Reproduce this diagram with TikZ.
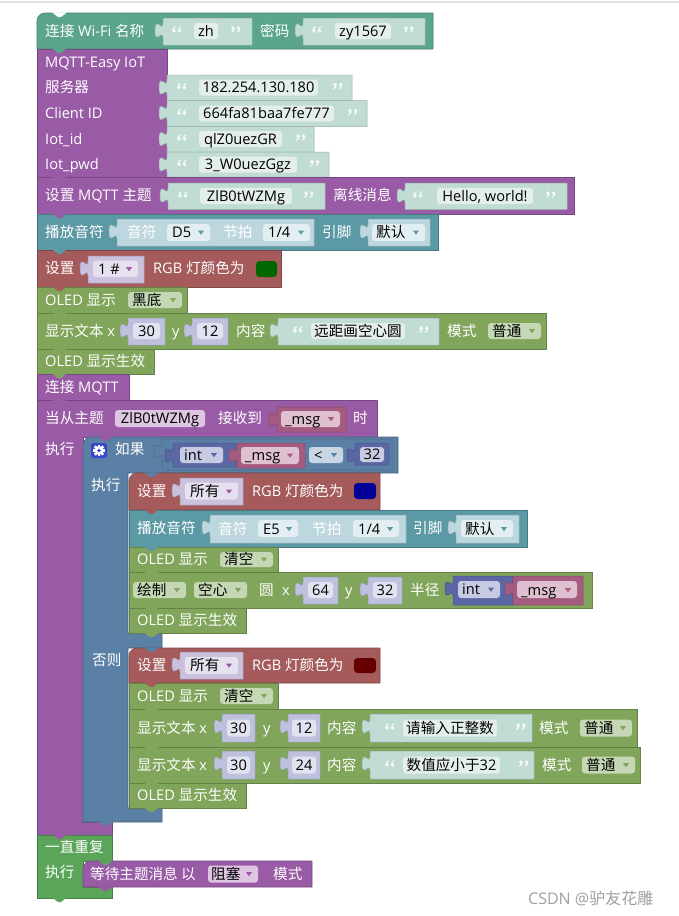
\documentclass[tikz,border=0pt]{standalone}
\usepackage{fontspec}
\setmainfont{Open Sans}
\newfontfamily\zhf{Noto Sans CJK SC}
\newcommand\zh[1]{{\zhf #1}}
\newcommand\fs{\fontsize{14.6}{17}\selectfont}
\definecolor{wifi}{HTML}{5BA58C}
\definecolor{mqtt}{HTML}{995BA5}
\definecolor{note}{HTML}{5B99A5}
\definecolor{rgb}{HTML}{A55B5B}
\definecolor{oled}{HTML}{80A55B}
\definecolor{ifc}{HTML}{5B80A5}
\definecolor{loopc}{HTML}{5BA55B}
\definecolor{intc}{HTML}{5B67A5}
\definecolor{varc}{HTML}{A55B80}
\definecolor{strsh}{HTML}{C0DCD4}
\definecolor{strfld}{HTML}{E4EFEB}
\definecolor{notesh}{HTML}{BDD7DE}
\definecolor{notefld}{HTML}{E2EEF1}
\definecolor{rgbsh}{HTML}{CBC0DE}
\definecolor{rgbfld}{HTML}{E6E1EF}
\definecolor{numsh}{HTML}{BDC1DD}
\definecolor{numfld}{HTML}{E1E3F0}
\definecolor{oledfld}{HTML}{C5D7B4}
\definecolor{mqttfld}{HTML}{DEC6E3}
\definecolor{varfld}{HTML}{DEC0D0}
\definecolor{intfld}{HTML}{C6CAE3}
\definecolor{cmpfld}{HTML}{C8D5E3}
\definecolor{gearc}{HTML}{3848C8}
\definecolor{wm}{HTML}{A0A0A0}
\definecolor{qtc}{HTML}{F4F8F6}
\tikzset{
 lbl/.style={anchor=base west, inner sep=0pt, text=white, font=\fs, yshift=-5.3pt},
 ftx/.style={anchor=base west, inner sep=0pt, text=black, font=\fs, yshift=-5.3pt},
 ctx/.style={anchor=base, inner sep=0pt, text=black, font=\fs, yshift=-5.3pt},
}
\newcommand\blk[5]{\filldraw[fill=#1,draw=#1!78!black,line width=0.6pt] (#2,#3) rectangle (#4,#5);}
\newcommand\blkr[5]{\filldraw[fill=#1,draw=#1!78!black,line width=0.6pt] (#2,#5) -- (#2,{#3+8}) .. controls (#2,{#3+3.6}) and ({#2+3.6},#3) .. ({#2+8},#3) -- (#4,#3) -- (#4,#5) -- cycle;}
\newcommand\vinp[5]{\filldraw[fill=#1,draw=#1!80!black,line width=0.5pt] (#2,#3) -- (#4,#3) -- (#4,#5) -- (#2,#5) -- (#2,{#3+20}) .. controls (#2,{#3+10}) and ({#2-8},{#3+28}) .. ({#2-8},{#3+12.5}) .. controls ({#2-8},{#3-3}) and (#2,{#3+15}) .. (#2,{#3+5}) -- cycle;}
\newcommand\fld[5]{\fill[#1,rounded corners=3pt] (#2,#3) rectangle (#4,#5);}
\newcommand\dda[3]{\fill[#1] ({#2-3},{#3-1.8}) -- ({#2+3},{#3-1.8}) -- (#2,{#3+2.2}) -- cycle;}
\newcommand\ntab[3]{\fill[#1] ({#2+15},{#3-0.6}) -- ({#2+21},{#3+4}) -- ({#2+24},{#3+4}) -- ({#2+30},{#3-0.6}) -- cycle;}
\newcommand\swt[5]{\fill[#1,rounded corners=3.5pt] (#2,#3) rectangle (#4,#5);}
\newcommand\qmark[3]{\begin{scope}[shift={(#1,#2)},rotate=#3]
 \fill[qtc] (0,1.4) circle (1.95);
 \fill[qtc] (-1.85,1.2) .. controls (-1.8,-1.4) and (-0.3,-2.9) .. (1.8,-3.3) -- (2.0,-2.4) .. controls (0.8,-1.9) and (0.2,-0.9) .. (0.3,-0.3) -- cycle;
\end{scope}}
\newcommand\oq[2]{\qmark{{#1+2}}{{#2-1.5}}{0}\qmark{{#1+7.6}}{{#2-1.5}}{0}}
\newcommand\cq[2]{\qmark{{#1+2}}{{#2-1.5}}{180}\qmark{{#1+7.6}}{{#2-1.5}}{180}}
\begin{document}
\begin{tikzpicture}[x=1pt,y=-1pt]
\useasboundingbox (0,0) rectangle (679,916);
\fill[white] (0,0) rectangle (679,916);
\fill[black!12] (0,0.5) rectangle (679,2.5);

% ---- WiFi
\blkr{wifi}{37}{13}{433}{49}
\node[lbl] (w1) at (45,31) {\zh{连接} Wi-Fi \zh{名称}};
\vinp{strsh}{163}{18}{252}{45}
\oq{172}{31}
\fld{strfld}{194}{23}{218}{39}
\node[ctx] (w3) at (206,31) {zh};
\cq{231}{31}
\node[lbl] (w5) at (260,31) {\zh{密码}};
\vinp{strsh}{303}{18}{425}{45}
\oq{312}{31}
\fld{strfld}{335}{23}{391}{39}
\node[ctx] (w7) at (363,31) {zy1567};
\cq{404}{31}

% ---- MQTT-Easy IoT
\blk{mqtt}{37}{49}{167}{177}
\node[lbl] (m1) at (45,62) {MQTT-Easy IoT};
\node[lbl] (m2) at (45,87.5) {\zh{服务器}};
\vinp{strsh}{167}{75}{352}{100.5}
\oq{177}{87.5}
\fld{strfld}{199}{79.5}{318}{95.5}
\node[ctx] (m4) at (258.5,87.5) {182.254.130.180};
\cq{333}{87.5}
\node[lbl] (m6) at (45,113.5) {Client ID};
\vinp{strsh}{167}{100.5}{367}{126.5}
\oq{177}{113.5}
\fld{strfld}{199}{105.5}{334}{121.5}
\node[ctx] (m8) at (266.5,113.5) {664fa81baa7fe777};
\cq{348}{113.5}
\node[lbl] (m10) at (45,139) {Iot\_id};
\vinp{strsh}{167}{126.5}{314}{152}
\oq{177}{139}
\fld{strfld}{199}{131}{282}{147}
\node[ctx] (m12) at (240.5,139) {qlZ0uezGR};
\cq{296}{139}
\node[lbl] (m14) at (45,164.5) {Iot\_pwd};
\vinp{strsh}{167}{152}{329}{177}
\oq{177}{164.5}
\fld{strfld}{199}{156.5}{297}{172.5}
\node[ctx] (m16) at (248,164.5) {3\_W0uezGgz};
\cq{310}{164.5}

% ---- set MQTT topic
\blk{mqtt}{37}{177}{574}{214}
\node[lbl] (s1) at (45,195.5) {\zh{设置} MQTT \zh{主题}};
\vinp{strsh}{168}{183}{325}{209.5}
\oq{178}{196}
\fld{strfld}{200}{188}{292}{204}
\node[ctx] (s3) at (246,196) {ZlB0tWZMg};
\cq{304}{196}
\node[lbl] (s5) at (333,195.5) {\zh{离线消息}};
\vinp{strsh}{405}{183}{567}{209.5}
\oq{413}{196}
\fld{strfld}{437}{188}{533}{204}
\node[ctx] (s7) at (485,196) {Hello, world!};
\cq{546}{196}

% ---- play note
\blk{note}{37}{214}{438}{250}
\node[lbl] (p1) at (45,232) {\zh{播放音符}};
\vinp{notesh}{117}{219}{314}{246}
\node[lbl] (p2) at (127,232.5) {\zh{音符}};
\fld{notefld}{167}{224}{210}{241}
\node[ftx] (p3) at (172,232.5) {D5};
\dda{note}{201}{232.5}
\node[lbl] (p4) at (223,232.5) {\zh{节拍}};
\fld{notefld}{263}{224}{310}{241}
\node[ftx] (p5) at (268,232.5) {1/4};
\dda{note}{301}{232.5}
\node[lbl] (p6) at (322,232) {\zh{引脚}};
\vinp{notesh}{368}{219}{430}{246}
\fld{notefld}{372}{224}{425}{241}
\node[ftx] (p7) at (376,232.5) {\zh{默认}};
\dda{note}{416}{232.5}

% ---- RGB top
\blk{rgb}{37}{250}{281}{287}
\node[lbl] (r1) at (45,268.5) {\zh{设置}};
\vinp{rgbsh}{88}{256}{144}{283}
\fld{rgbfld}{93}{260.5}{138}{277}
\node[ftx] (r2) at (98,269) {1 \#};
\dda{mqtt}{129}{269}
\node[lbl] (r3) at (153,268.5) {RGB \zh{灯颜色为}};
\swt{green!40!black}{256}{261}{277}{277}

% ---- OLED 黑底
\blk{oled}{37}{287}{187}{313}
\node[lbl] (o1) at (45,300) {OLED \zh{显示}};
\fld{oledfld}{128}{292}{182}{308}
\node[ftx] (o2) at (132,300) {\zh{黑底}};
\dda{oled}{173}{300}

% ---- show text
\blk{oled}{37}{313}{546}{349}
\node[lbl] (t1) at (45,331) {\zh{显示文本} x};
\vinp{numsh}{128}{318}{165}{345}
\fld{numfld}{133}{323}{160}{339}
\node[ctx] (t2) at (146.5,331) {30};
\node[lbl] (t3) at (172,331) {y};
\vinp{numsh}{192}{318}{228}{345}
\fld{numfld}{197}{323}{223}{339}
\node[ctx] (t4) at (210,331) {12};
\node[lbl] (t5) at (236,331) {\zh{内容}};
\vinp{strsh}{278}{318}{439}{345}
\oq{293}{331}
\fld{strfld}{311}{323}{405}{339}
\node[ctx] (t7) at (358,331) {\zh{远距画空心圆}};
\cq{419}{331}
\node[lbl] (t9) at (447,331) {\zh{模式}};
\fld{oledfld}{488}{323}{541}{339}
\node[ftx] (t10) at (492,331) {\zh{普通}};
\dda{oled}{532}{331}

% ---- OLED apply
\blk{oled}{37}{349}{154}{374}
\node[lbl] (e1) at (45,361.5) {OLED \zh{显示生效}};

% ---- connect MQTT
\blk{mqtt}{37}{374}{129}{400}
\node[lbl] (c1) at (45,387) {\zh{连接} MQTT};

% ---- event block
\filldraw[fill=mqtt,draw=mqtt!78!black,line width=0.6pt] (37,400) -- (377,400) -- (377,437) -- (83,437) -- (83,822) -- (112,822) -- (112,835) -- (37,835) -- cycle;
\node[lbl] (v1) at (45,418.5) {\zh{当从主题}};
\fld{mqttfld}{115}{410}{205}{427}
\node[ctx] (v2) at (160,418.5) {ZlB0tWZMg};
\node[lbl] (v3) at (218,418.5) {\zh{接收到}};
\vinp{varc}{277}{407}{346}{432}
\fld{varfld}{281}{411}{340}{427}
\node[ftx] (v4) at (285,419) {\_msg};
\dda{varc}{331}{419}
\node[lbl] (v5) at (353,418.5) {\zh{时}};
\node[lbl] (v6) at (45,449) {\zh{执行}};

% ---- if block
\filldraw[fill=ifc,draw=ifc!78!black,line width=0.6pt] (83,822) -- (83,445) .. controls (83,440.6) and (86.6,437) .. (91,437) -- (398,437) -- (398,473) -- (128,473) -- (128,633) -- (162,633) -- (162,648) -- (128,648) -- (128,808) -- (162,808) -- (162,822) -- cycle;
\fill[gearc,rounded corners=2.5pt] (91,443) rectangle (107,458);
\fill[white] (99,450.5) circle (4.3);
\foreach \a in {0,45,...,315} { \fill[white,rotate around={\a:(99,450.5)}] (97.7,444.6) rectangle (100.3,447); }
\fill[gearc] (99,450.5) circle (1.8);
\node[lbl] (f1) at (115,449) {\zh{如果}};
\vinp{ifc}{162}{439}{392}{470}
\vinp{intc}{173}{443}{236}{467}
\fld{intfld}{180}{447}{223}{463}
\node[ftx] (f2) at (184,455) {int};
\dda{intc}{214}{455}
\vinp{varc}{237}{443}{305}{468}
\fld{varfld}{241}{447}{299}{464}
\node[ftx] (f3) at (245,455.5) {\_msg};
\dda{varc}{290}{455.5}
\fld{cmpfld}{309}{447}{343}{463}
\node[ftx] (f4) at (314,455) {<};
\dda{ifc}{334}{455}
\vinp{intc}{355}{443}{389}{465}
\fld{intfld}{360}{447}{384}{462}
\node[ctx] (f5) at (372,454.5) {32};
\node[lbl] (f6) at (91,485) {\zh{执行}};
\node[lbl] (f7) at (92,660) {\zh{否则}};

% ---- then: RGB
\blkr{rgb}{129}{473}{380}{510}
\node[lbl] (a1) at (137,491.5) {\zh{设置}};
\vinp{rgbsh}{180}{478}{243}{505}
\fld{rgbfld}{185}{482.5}{238}{499.5}
\node[ftx] (a2) at (190,491.5) {\zh{所有}};
\dda{mqtt}{229}{491.5}
\node[lbl] (a3) at (252,491.5) {RGB \zh{灯颜色为}};
\swt{blue!60!black}{354}{483}{376}{499}

% ---- then: play note
\blk{note}{129}{510}{527}{547}
\node[lbl] (b1) at (137,528.5) {\zh{播放音符}};
\vinp{notesh}{210}{515}{406}{543}
\node[lbl] (b2) at (218,529) {\zh{音符}};
\fld{notefld}{258}{520}{298}{537}
\node[ftx] (b3) at (263,529) {E5};
\dda{note}{289}{529}
\node[lbl] (b4) at (312,529) {\zh{节拍}};
\fld{notefld}{353}{520}{399}{537}
\node[ftx] (b5) at (358,529) {1/4};
\dda{note}{390}{529}
\node[lbl] (b6) at (413,528.5) {\zh{引脚}};
\vinp{notesh}{456}{515}{519}{543}
\fld{notefld}{461}{520}{513}{537}
\node[ftx] (b7) at (465,529) {\zh{默认}};
\dda{note}{504}{529}

% ---- then: OLED clear
\blk{oled}{129}{547}{278}{572}
\node[lbl] (g1) at (137,559.5) {OLED \zh{显示}};
\fld{oledfld}{220}{552}{273}{567}
\node[ftx] (g2) at (224,559.5) {\zh{清空}};
\dda{oled}{264}{559.5}

% ---- then: draw circle
\blk{oled}{129}{572}{592}{608}
\fld{oledfld}{133}{582}{186}{598}
\node[ftx] (h1) at (137,590) {\zh{绘制}};
\dda{oled}{177}{590}
\fld{oledfld}{194}{582}{247}{598}
\node[ftx] (h2) at (198,590) {\zh{空心}};
\dda{oled}{238}{590}
\node[lbl] (h3) at (259,590) {\zh{圆}};
\node[lbl] (h4) at (282,590) {x};
\vinp{numsh}{303}{577}{338}{604}
\fld{numfld}{308}{582}{333}{598}
\node[ctx] (h5) at (320.5,590) {64};
\node[lbl] (h6) at (345,590) {y};
\vinp{numsh}{368}{577}{402}{604}
\fld{numfld}{373}{582}{397}{598}
\node[ctx] (h7) at (385,590) {32};
\node[lbl] (h8) at (410,590) {\zh{半径}};
\vinp{intc}{453}{576}{513}{605}
\fld{intfld}{458}{581}{500}{598}
\node[ftx] (h9) at (462,589.5) {int};
\dda{intc}{491}{589.5}
\vinp{varc}{513}{576}{583}{605}
\fld{varfld}{517}{581}{577}{598}
\node[ftx] (h10) at (521,590) {\_msg};
\dda{varc}{568}{590}

% ---- then: OLED apply
\blk{oled}{129}{608}{246}{633}
\node[lbl] (i1) at (137,620.5) {OLED \zh{显示生效}};

% ---- else: RGB
\blkr{rgb}{129}{648}{380}{683}
\node[lbl] (j1) at (137,665.5) {\zh{设置}};
\vinp{rgbsh}{180}{652}{243}{679}
\fld{rgbfld}{185}{657}{238}{674}
\node[ftx] (j2) at (190,665.5) {\zh{所有}};
\dda{mqtt}{229}{665.5}
\node[lbl] (j3) at (252,665.5) {RGB \zh{灯颜色为}};
\swt{red!40!black}{354}{658}{376}{673}

% ---- else: OLED clear
\blk{oled}{129}{683}{278}{709}
\node[lbl] (k1) at (137,696) {OLED \zh{显示}};
\fld{oledfld}{220}{688}{273}{704}
\node[ftx] (k2) at (224,696) {\zh{清空}};
\dda{oled}{264}{696}

% ---- else: show text 1
\blk{oled}{129}{709}{637}{747}
\node[lbl] (l1) at (137,728) {\zh{显示文本} x};
\vinp{numsh}{222}{714}{255}{742}
\fld{numfld}{227}{719.5}{250}{736.5}
\node[ctx] (l2) at (238.5,728) {30};
\node[lbl] (l3) at (263,728) {y};
\vinp{numsh}{288}{714}{320}{742}
\fld{numfld}{292}{719.5}{316}{736.5}
\node[ctx] (l4) at (304,728) {12};
\node[lbl] (l5) at (327,728) {\zh{内容}};
\vinp{strsh}{370}{714}{532}{742}
\oq{385}{728}
\fld{strfld}{403}{719.5}{497}{736.5}
\node[ctx] (l7) at (450,728) {\zh{请输入正整数}};
\cq{516}{728}
\node[lbl] (l9) at (539,728) {\zh{模式}};
\fld{oledfld}{580}{719.5}{632}{736.5}
\node[ftx] (l10) at (584,728) {\zh{普通}};
\dda{oled}{623}{728}

% ---- else: show text 2
\blk{oled}{129}{747}{640}{783}
\node[lbl] (q1) at (137,765) {\zh{显示文本} x};
\vinp{numsh}{222}{751}{255}{779}
\fld{numfld}{227}{756.5}{250}{773.5}
\node[ctx] (q2) at (238.5,765) {30};
\node[lbl] (q3) at (263,765) {y};
\vinp{numsh}{288}{751}{320}{779}
\fld{numfld}{292}{756.5}{316}{773.5}
\node[ctx] (q4) at (304,765) {24};
\node[lbl] (q5) at (327,765) {\zh{内容}};
\vinp{strsh}{370}{751}{534}{779}
\oq{385}{765}
\fld{strfld}{403}{756.5}{500}{773.5}
\node[ctx] (q7) at (451.5,765) {\zh{数值应小于}32};
\cq{519}{765}
\node[lbl] (q9) at (542,765) {\zh{模式}};
\fld{oledfld}{582}{756.5}{635}{773.5}
\node[ftx] (q10) at (586,765) {\zh{普通}};
\dda{oled}{626}{765}

% ---- else: OLED apply
\blk{oled}{129}{783}{246}{808}
\node[lbl] (u1) at (137,795.5) {OLED \zh{显示生效}};

% ---- forever
\filldraw[fill=loopc,draw=loopc!78!black,line width=0.6pt] (37,835) -- (112,835) -- (112,861) -- (83,861) -- (83,887) -- (112,887) -- (112,898) -- (37,898) -- cycle;
\node[lbl] (x1) at (45,847) {\zh{一直重复}};
\node[lbl] (x2) at (45,872) {\zh{执行}};
\blkr{mqtt}{83}{861}{312}{887}
\node[lbl] (x3) at (90,874) {\zh{等待主题消息 以}};
\fld{mqttfld}{208}{865.5}{258}{882.5}
\node[ftx] (x4) at (211,874) {\zh{阻塞}};
\dda{mqtt}{249}{874}
\node[lbl] (x5) at (273,874) {\zh{模式}};

% ---- tabs (next connections)
\fill[white] (52,12.4) -- (58,17) -- (61,17) -- (67,12.4) -- cycle;
\ntab{wifi}{37}{49}
\ntab{mqtt}{37}{177}
\ntab{mqtt}{37}{214}
\ntab{note}{37}{250}
\ntab{rgb}{37}{287}
\ntab{oled}{37}{313}
\ntab{oled}{37}{349}
\ntab{oled}{37}{374}
\ntab{mqtt}{37}{400}
\ntab{mqtt}{83}{437}
\ntab{ifc}{129}{473}
\ntab{rgb}{129}{510}
\ntab{note}{129}{547}
\ntab{oled}{129}{572}
\ntab{oled}{129}{608}
\ntab{oled}{129}{633}
\ntab{ifc}{129}{648}
\ntab{rgb}{129}{683}
\ntab{oled}{129}{709}
\ntab{oled}{129}{747}
\ntab{oled}{129}{783}
\ntab{oled}{129}{808}
\ntab{ifc}{83}{822}
\ntab{mqtt}{37}{835}
\ntab{loopc}{83}{861}
\ntab{mqtt}{83}{887}
\ntab{loopc}{37}{898}

% ---- watermark
\node[anchor=base west, inner sep=0pt, text=wm, font=\fontsize{16}{18}\selectfont] (wmk) at (528,904) {CSDN @\zh{驴友花雕}};
\end{tikzpicture}
\end{document}
